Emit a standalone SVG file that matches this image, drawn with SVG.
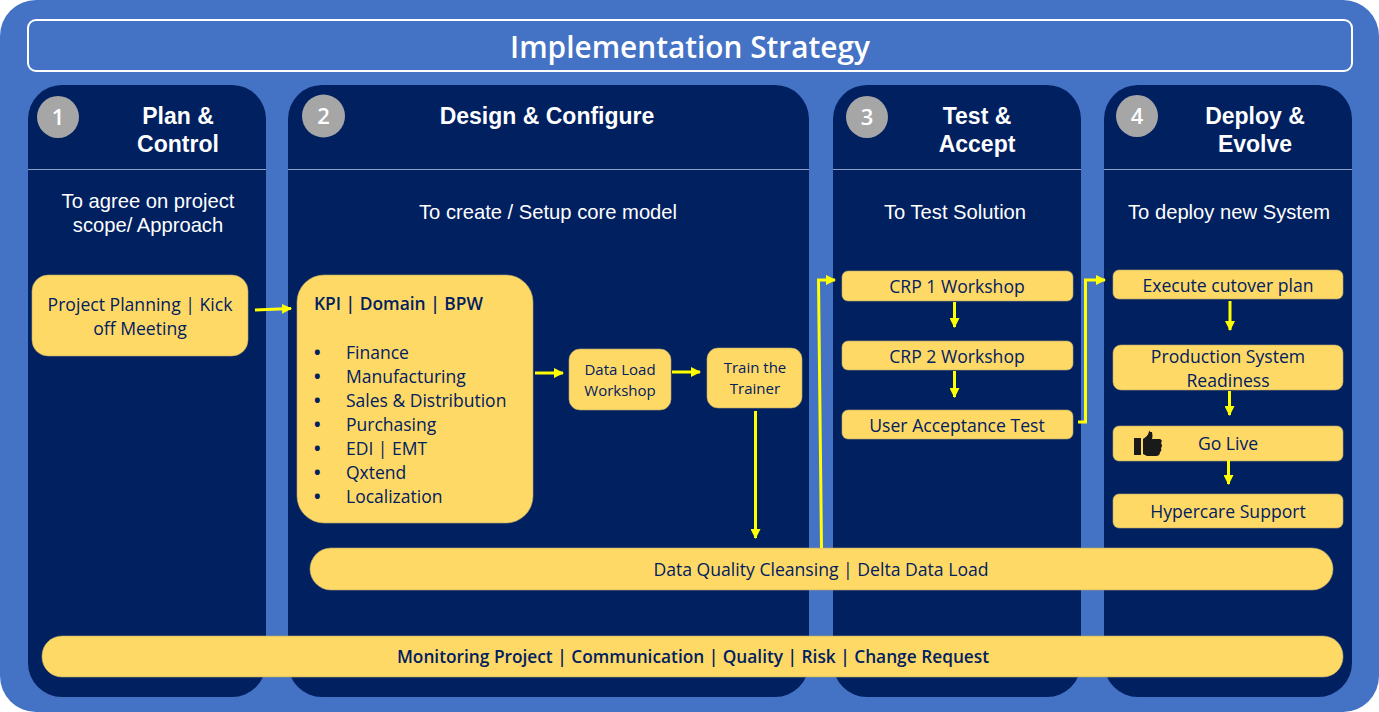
<svg xmlns="http://www.w3.org/2000/svg" width="1379" height="712" viewBox="0 0 1379 712">
<style>
.col{fill:#002060}
.rule{stroke:#8f9fc4;stroke-width:1}
.h{font:bold 23px "Liberation Sans",Arial,sans-serif;fill:#fff;text-anchor:middle}
.s{font:20.200px "Liberation Sans",Arial,sans-serif;fill:#fff;text-anchor:middle}
.n{fill:#a6a6a6}
.nt{font:600 22px "Open Sans",sans-serif;fill:#fff;text-anchor:middle}
.b{fill:#ffd966;stroke:#b8a968;stroke-width:.6}
.t{font:17.600px "Open Sans",sans-serif;fill:#002060;text-anchor:middle}
.t2{font:15px "Open Sans",sans-serif;fill:#002060;text-anchor:middle}
.l{font:17.500px "Open Sans",sans-serif;fill:#002060}
.d{font-weight:700}
.bt{font:600 17.400px "Open Sans",sans-serif;fill:#002060}
.c{fill:none;stroke:#ffff00;stroke-width:3}
</style>
<defs>
<marker id="a" markerUnits="userSpaceOnUse" markerWidth="10" markerHeight="10" refX="9" refY="5" orient="auto"><path d="M0 0L10 5L0 10Z" fill="#ffff00"/></marker>
</defs>
<rect x="0" y="0" width="1379" height="712" rx="36" fill="#4472c4"/>
<g id="title"><rect x="28" y="20" width="1324" height="51" rx="8" fill="#4472c4" stroke="#fff" stroke-width="2"/>
<text x="690" y="57.500" style="font:600 29.800px 'Open Sans',sans-serif;fill:#fff;text-anchor:middle">Implementation Strategy</text></g>

<g id="col1"><rect class="col" x="28" y="85" width="238" height="612" rx="34"/><line class="rule" x1="28" y1="169.500" x2="266" y2="169.500"/>
<circle class="n" cx="58" cy="117" r="21"/><text class="nt" x="58" y="125">1</text>
<text class="h" x="178" y="124">Plan &amp;</text><text class="h" x="178" y="152">Control</text>
<text class="s" x="148" y="208">To agree on project</text><text class="s" x="148" y="232">scope/ Approach</text></g>
<g id="col2"><rect class="col" x="288" y="85" width="521" height="612" rx="34"/><line class="rule" x1="288" y1="169.500" x2="809" y2="169.500"/>
<circle class="n" cx="323.500" cy="116" r="21.500"/><text class="nt" x="323.500" y="124">2</text>
<text class="h" x="547" y="124">Design &amp; Configure</text>
<text class="s" x="548" y="219">To create / Setup core model</text></g>
<g id="col3"><rect class="col" x="833" y="85" width="248" height="612" rx="34"/><line class="rule" x1="833" y1="169.500" x2="1081" y2="169.500"/>
<circle class="n" cx="867" cy="117" r="21"/><text class="nt" x="867" y="125">3</text>
<text class="h" x="977" y="124">Test &amp;</text><text class="h" x="977" y="152">Accept</text>
<text class="s" x="955" y="219">To Test Solution</text></g>
<g id="col4"><rect class="col" x="1104" y="85" width="248" height="612" rx="34"/><line class="rule" x1="1104" y1="169.500" x2="1352" y2="169.500"/>
<circle class="n" cx="1137" cy="116" r="21"/><text class="nt" x="1137" y="124">4</text>
<text class="h" x="1255" y="124">Deploy &amp;</text><text class="h" x="1255" y="152">Evolve</text>
<text class="s" x="1229" y="219">To deploy new System</text></g>

<g id="planning"><rect class="b" x="32" y="275" width="216" height="81" rx="16"/>
<text class="t" x="140" y="310.500">Project Planning | Kick</text><text class="t" x="140" y="334.500">off Meeting</text></g>
<g id="kpi"><rect class="b" x="297" y="275" width="236" height="248" rx="27"/>
<text class="bt" x="314" y="309.500">KPI | Domain | BPW</text>
<g class="l"><text class="d" x="314" y="358.500">•</text><text x="346" y="358.500">Finance</text>
<text class="d" x="314" y="382.500">•</text><text x="346" y="382.500">Manufacturing</text>
<text class="d" x="314" y="406.500">•</text><text x="346" y="406.500">Sales &amp; Distribution</text>
<text class="d" x="314" y="430.500">•</text><text x="346" y="430.500">Purchasing</text>
<text class="d" x="314" y="454.500">•</text><text x="346" y="454.500">EDI | EMT</text>
<text class="d" x="314" y="478.500">•</text><text x="346" y="478.500">Qxtend</text>
<text class="d" x="314" y="502.500">•</text><text x="346" y="502.500">Localization</text></g></g>
<g id="dataload"><rect class="b" x="569" y="349" width="102" height="61" rx="11"/>
<text class="t2" x="620" y="375">Data Load</text><text class="t2" x="620" y="396">Workshop</text></g>
<g id="trainer"><rect class="b" x="707" y="348" width="95" height="60" rx="11"/>
<text class="t2" x="755" y="373">Train the</text><text class="t2" x="755" y="394">Trainer</text></g>
<g id="crp1"><rect class="b" x="842" y="271" width="231" height="30" rx="6"/><text class="t" x="957" y="292.500">CRP 1 Workshop</text></g>
<g id="crp2"><rect class="b" x="842" y="341" width="231" height="29" rx="6"/><text class="t" x="957" y="362.500">CRP 2 Workshop</text></g>
<g id="uat"><rect class="b" x="842" y="410" width="231" height="29" rx="6"/><text class="t" x="957" y="431.500">User Acceptance Test</text></g>
<g id="cutover"><rect class="b" x="1113" y="270" width="230" height="29" rx="6"/><text class="t" x="1228" y="291.500">Execute cutover plan</text></g>
<g id="readiness"><rect class="b" x="1113" y="345" width="230" height="45" rx="8"/><text class="t" x="1228" y="362.500">Production System</text><text class="t" x="1228" y="386.500">Readiness</text></g>
<g id="golive"><rect class="b" x="1113" y="426" width="230" height="35" rx="6"/><text class="t" x="1228" y="450">Go Live</text>
<path d="M1134 438H1141V455H1134Z M1143 439C1146 437 1149 435 1149 430Q1149 432 1152 432Q1153 436 1152 439H1160Q1163 440 1161 443Q1163 446 1161 448Q1162 451 1160 452Q1160 456 1156 456H1147L1143 454Z" fill="#1a1a1a"/></g>
<g id="hypercare"><rect class="b" x="1113" y="494" width="230" height="34" rx="6"/><text class="t" x="1228" y="518">Hypercare Support</text></g>
<g id="cleansing"><rect class="b" x="310" y="548" width="1023" height="42" rx="21"/><text class="t" x="821" y="576">Data Quality Cleansing | Delta Data Load</text></g>
<g id="monitoring"><rect class="b" x="42" y="636" width="1301" height="41" rx="20"/><text class="t" x="693" y="663" style="font-weight:600;font-size:17.300px">Monitoring Project | Communication | Quality | Risk | Change Request</text></g>

<g id="connectors">
<path class="c" marker-end="url(#a)" d="M255 310L291 308.500"/>
<path class="c" marker-end="url(#a)" d="M535 373H563"/>
<path class="c" marker-end="url(#a)" d="M672 372H700"/>
<path class="c" marker-end="url(#a)" d="M755.500 411V538"/>
<path class="c" marker-end="url(#a)" d="M821.500 548L818.500 280H835"/>
<path class="c" marker-end="url(#a)" d="M954.500 302V327"/>
<path class="c" marker-end="url(#a)" d="M954.500 371V397"/>
<path class="c" marker-end="url(#a)" d="M1078 422H1085.500V280H1105"/>
<path class="c" marker-end="url(#a)" d="M1230 301V330"/>
<path class="c" marker-end="url(#a)" d="M1229.500 391V415"/>
<path class="c" marker-end="url(#a)" d="M1228.500 460V484"/>
</g>
</svg>
